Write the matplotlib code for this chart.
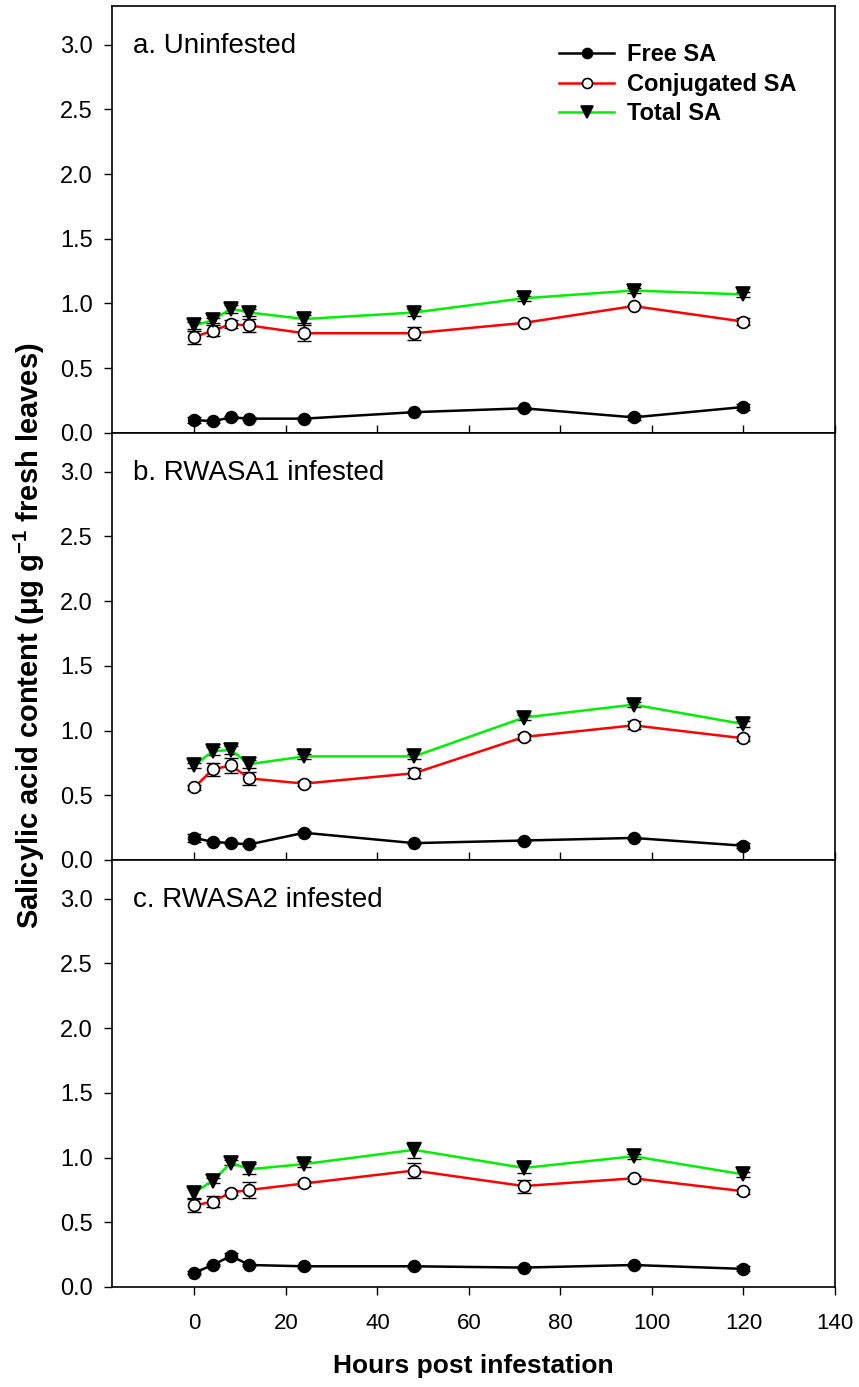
import matplotlib.pyplot as plt

plt.rcParams['font.family'] = ['Liberation Sans', 'DejaVu Sans']
plt.rcParams['mathtext.fontset'] = 'custom'
plt.rcParams['mathtext.rm'] = 'Liberation Sans'
plt.rcParams['mathtext.bf'] = 'Liberation Sans:bold'

hours = [0, 4, 8, 12, 24, 48, 72, 96, 120]

# a. uninfested
free_a = [0.10, 0.09, 0.12, 0.11, 0.11, 0.16, 0.19, 0.12, 0.20]
free_a_err = [0.02, 0.01, 0.01, 0.01, 0.01, 0.01, 0.01, 0.02, 0.02]
conj_a = [0.74, 0.79, 0.84, 0.83, 0.77, 0.77, 0.85, 0.98, 0.86]
conj_a_err = [0.05, 0.04, 0.03, 0.05, 0.06, 0.05, 0.01, 0.01, 0.03]
total_a = [0.83, 0.87, 0.96, 0.93, 0.88, 0.93, 1.04, 1.10, 1.07]
total_a_err = [0.03, 0.02, 0.03, 0.03, 0.03, 0.03, 0.02, 0.02, 0.02]

# b. RWASA1 infested
free_b = [0.17, 0.14, 0.13, 0.12, 0.21, 0.13, 0.15, 0.17, 0.11]
free_b_err = [0.03, 0.01, 0.01, 0.01, 0.01, 0.01, 0.01, 0.01, 0.02]
conj_b = [0.56, 0.70, 0.73, 0.63, 0.59, 0.67, 0.95, 1.04, 0.94]
conj_b_err = [0.02, 0.05, 0.06, 0.05, 0.02, 0.04, 0.02, 0.03, 0.02]
total_b = [0.73, 0.84, 0.85, 0.74, 0.80, 0.80, 1.10, 1.20, 1.05]
total_b_err = [0.02, 0.03, 0.03, 0.03, 0.02, 0.02, 0.02, 0.02, 0.02]

# c. RWASA2 infested
free_c = [0.11, 0.17, 0.24, 0.17, 0.16, 0.16, 0.15, 0.17, 0.14]
free_c_err = [0.01, 0.01, 0.02, 0.01, 0.01, 0.01, 0.01, 0.01, 0.02]
conj_c = [0.63, 0.66, 0.73, 0.75, 0.80, 0.90, 0.78, 0.84, 0.74]
conj_c_err = [0.05, 0.04, 0.02, 0.06, 0.02, 0.06, 0.05, 0.02, 0.02]
total_c = [0.73, 0.82, 0.96, 0.91, 0.95, 1.06, 0.92, 1.01, 0.87]
total_c_err = [0.04, 0.02, 0.02, 0.04, 0.02, 0.06, 0.04, 0.02, 0.02]

panel_titles = ['a. Uninfested', 'b. RWASA1 infested', 'c. RWASA2 infested']
series_names = ['Free SA', 'Conjugated SA', 'Total SA']

panels = [
    (free_a, free_a_err, conj_a, conj_a_err, total_a, total_a_err),
    (free_b, free_b_err, conj_b, conj_b_err, total_b, total_b_err),
    (free_c, free_c_err, conj_c, conj_c_err, total_c, total_c_err),
]

fig = plt.figure(figsize=(8.59, 13.87), dpi=100)
left, width = 0.1304, 0.8416
h = 0.3079
bottoms = [0.0721 + 2 * h, 0.0721 + h, 0.0721]

styles = [
    dict(color='black', marker='o', mfc='black', ms=8.5),
    dict(color='#ff0000', marker='o', mfc='white', ms=8.5),
    dict(color='#00ee00', marker='v', mfc='black', ms=9.5),
]

for i, (data, title, b) in enumerate(zip(panels, panel_titles, bottoms)):
    ax = fig.add_axes([left, b, width, h])
    handles = []
    for k in range(3):
        y = data[2 * k]
        err = data[2 * k + 1]
        ax.errorbar(hours, y, yerr=err, fmt='none', ecolor='black',
                    elinewidth=1.0, capsize=5, capthick=1.0, zorder=2 + k)
        st = styles[k]
        ln, = ax.plot(hours, y, color=st['color'], lw=1.8, marker=st['marker'],
                      mfc=st['mfc'], mec='black', mew=1.2, ms=st['ms'],
                      zorder=3 + k, label=series_names[k])
        handles.append(ln)

    ax.set_xlim(-18, 140)
    ax.set_ylim(0, 3.3)
    ax.set_yticks([0.0, 0.5, 1.0, 1.5, 2.0, 2.5, 3.0])
    ax.set_yticklabels(['0.0', '0.5', '1.0', '1.5', '2.0', '2.5', '3.0'])
    ax.set_xticks(range(0, 141, 20))
    ax.tick_params(axis='y', direction='out', length=6, width=1, labelsize=17, pad=8)
    for sp in ax.spines.values():
        sp.set_linewidth(1.2)
    ax.text(0.029, 2.99, title, transform=ax.get_yaxis_transform(), fontsize=20,
            ha='left', va='center')

    if i < 2:
        ax.tick_params(axis='x', direction='in', length=6, width=1, labelbottom=False)
    else:
        ax.tick_params(axis='x', direction='out', length=6, width=1, labelsize=16, pad=13)
        ax.set_xlabel('Hours post infestation', fontsize=19, fontweight='bold',
                      labelpad=14)

    if i == 0:
        ax.legend(handles=handles, loc='upper left', bbox_to_anchor=(0.618, 0.912),
                  frameon=False, prop={'weight': 'bold', 'size': 17},
                  handlelength=2.35, handletextpad=0.55, labelspacing=0.27,
                  borderaxespad=0, borderpad=0, markerscale=0.85)

fig.text(0.034, 0.542, 'Salicylic acid content (μg g$\\mathbf{^{-1}}$ fresh leaves)',
         rotation=90, ha='center', va='center', fontsize=21, fontweight='bold')

fig.savefig('out.png', dpi=100)
